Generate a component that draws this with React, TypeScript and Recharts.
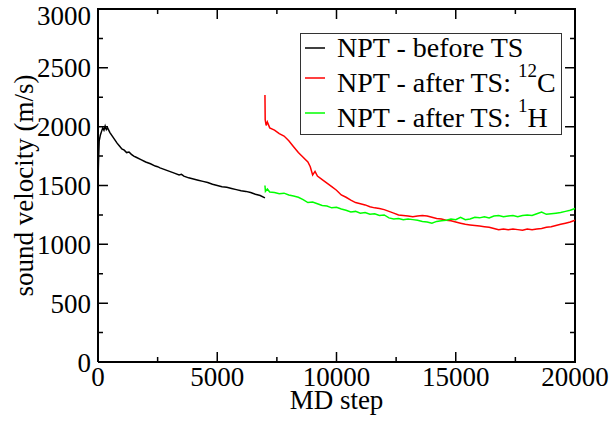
import React from 'react';
import { LineChart, Line, XAxis, YAxis } from 'recharts';

// black: NPT before thermostat switch
const beforeSteps = [0, 20, 50, 100, 150, 200, 250, 300, 350, 400, 500, 600, 700, 800, 900, 1000, 1100, 1200, 1300, 1400, 1500, 1600, 1800, 2000, 2200, 2400, 2500, 2600, 2800, 3000, 3200, 3400, 3500, 3600, 3800, 4000, 4200, 4400, 4600, 4800, 5000, 5200, 5400, 5600, 5800, 6000, 6200, 6400, 6600, 6800, 7000];
const beforeVel = [1530, 1700, 1880, 1930, 1960, 1990, 1970, 2005, 1975, 1990, 1950, 1920, 1890, 1860, 1835, 1810, 1800, 1780, 1785, 1765, 1750, 1740, 1720, 1700, 1685, 1665, 1660, 1650, 1635, 1620, 1605, 1590, 1595, 1580, 1565, 1555, 1545, 1535, 1525, 1510, 1500, 1490, 1485, 1475, 1465, 1455, 1450, 1440, 1425, 1415, 1395];

// red: after TS, 12C
const carbonSteps = [7000, 7010, 7050, 7100, 7200, 7400, 7600, 7800, 8000, 8200, 8400, 8600, 8800, 8900, 9000, 9100, 9200, 9400, 9600, 9800, 10000, 10200, 10400, 10600, 10800, 11000, 11200, 11400, 11600, 11800, 12000, 12200, 12400, 12600, 12800, 13000, 13200, 13400, 13600, 13800, 14000, 14200, 14400, 14600, 14800, 15000, 15200, 15400, 15600, 15800, 16000, 16200, 16400, 16600, 16800, 17000, 17200, 17400, 17600, 17800, 18000, 18200, 18400, 18600, 18800, 19000, 19200, 19400, 19600, 19800, 20000];
const carbonVel = [2270, 2060, 2010, 2040, 1990, 1970, 1940, 1920, 1880, 1830, 1780, 1740, 1700, 1660, 1590, 1620, 1580, 1550, 1520, 1490, 1460, 1420, 1400, 1375, 1355, 1345, 1335, 1320, 1310, 1305, 1295, 1280, 1265, 1250, 1245, 1240, 1235, 1240, 1245, 1240, 1230, 1220, 1215, 1205, 1200, 1190, 1180, 1170, 1165, 1160, 1155, 1150, 1145, 1135, 1125, 1130, 1125, 1130, 1125, 1120, 1130, 1125, 1130, 1135, 1145, 1150, 1160, 1170, 1180, 1190, 1205];

// green: after TS, 1H
const hydroSteps = [7000, 7020, 7100, 7200, 7400, 7600, 7800, 8000, 8200, 8400, 8600, 8800, 9000, 9200, 9400, 9600, 9800, 10000, 10200, 10400, 10600, 10800, 11000, 11200, 11400, 11600, 11800, 12000, 12200, 12400, 12600, 12800, 13000, 13200, 13400, 13600, 13800, 14000, 14200, 14400, 14600, 14800, 15000, 15200, 15400, 15600, 15800, 16000, 16200, 16400, 16600, 16800, 17000, 17200, 17400, 17600, 17800, 18000, 18200, 18400, 18600, 18800, 19000, 19200, 19400, 19600, 19800, 20000];
const hydroVel = [1500, 1450, 1470, 1445, 1440, 1430, 1435, 1420, 1410, 1400, 1380, 1355, 1360, 1345, 1330, 1325, 1310, 1315, 1300, 1290, 1275, 1280, 1265, 1270, 1255, 1260, 1245, 1250, 1225, 1215, 1220, 1210, 1215, 1210, 1205, 1195, 1190, 1180, 1195, 1200, 1205, 1215, 1210, 1230, 1210, 1215, 1230, 1225, 1235, 1225, 1240, 1245, 1235, 1240, 1245, 1235, 1245, 1250, 1245, 1260, 1275, 1255, 1260, 1265, 1270, 1280, 1290, 1305];

const xMajor = [0, 5000, 10000, 15000, 20000];
const xMinor = [2500, 7500, 12500, 17500];
const yMajor = [0, 500, 1000, 1500, 2000, 2500, 3000];
const yMinor = [250, 750, 1250, 1750, 2250, 2750];
const X_MAX = 20000;
const Y_MAX = 3000;

const zip = (xs: number[], ys: number[]) => xs.map((x, i) => ({ step: x, v: ys[i] }));
const beforeData = zip(beforeSteps, beforeVel);
const carbonData = zip(carbonSteps, carbonVel);
const hydroData = zip(hydroSteps, hydroVel);

// plot frame, drawn through the axis scales
const frameData = [
  { step: 0, v: 0 },
  { step: X_MAX, v: 0 },
  { step: X_MAX, v: Y_MAX },
  { step: 0, v: Y_MAX },
  { step: 0, v: 0 },
];

// inward tick marks on all four sides (grace style); lengths in data units (~10px major, ~5px minor)
const xTickSeg = (x: number, len: number) => [
  { step: x, v: 0 }, { step: x, v: len }, { step: x, v: null },
  { step: x, v: Y_MAX }, { step: x, v: Y_MAX - len }, { step: x, v: null },
];
const yTickSeg = (y: number, len: number) => [
  { step: 0, v: y }, { step: len, v: y }, { step: 0, v: null },
  { step: X_MAX, v: y }, { step: X_MAX - len, v: y }, { step: X_MAX, v: null },
];
const tickData = [
  ...xMajor.flatMap((x) => xTickSeg(x, 85)),
  ...xMinor.flatMap((x) => xTickSeg(x, 42)),
  ...yMajor.flatMap((y) => yTickSeg(y, 418)),
  ...yMinor.flatMap((y) => yTickSeg(y, 209)),
];

const SERIF = 'Liberation Serif, Times New Roman, serif';
const tickFont = { fontSize: 27, fontFamily: SERIF, fill: '#000' };

const legendRows = [
  { color: '#000000', lineY: 15, base: 24, main: 'NPT - before TS', sup: '', tail: '' },
  { color: '#ff0000', lineY: 45, base: 59, main: 'NPT - after TS:\u00a0', sup: '12', tail: 'C' },
  { color: '#00ff00', lineY: 80, base: 94, main: 'NPT - after TS:\u00a0', sup: '1', tail: 'H' },
];

function LegendBox() {
  return (
    <div style={{ position: 'absolute', left: 300, top: 33, width: 262, height: 102, background: '#fff', border: '1.5px solid #333', boxSizing: 'border-box' }}>
      <svg width={262} height={102} style={{ position: 'absolute', left: -1.5, top: -1.5 }}>
        {legendRows.map((r) => (
          <g key={r.color}>
            <line x1={5} x2={25} y1={r.lineY} y2={r.lineY} stroke={r.color} strokeWidth={1.5} />
            <text x={37} y={r.base} fontFamily={SERIF} fontSize={28} fill="#000">
              {r.main}
              {r.sup ? (
                <tspan fontSize={19} dy={-15}>
                  {r.sup}
                </tspan>
              ) : null}
              {r.tail ? (
                <tspan fontSize={28} dy={15}>
                  {r.tail}
                </tspan>
              ) : null}
            </text>
          </g>
        ))}
      </svg>
    </div>
  );
}

export default function App() {
  return (
    <div style={{ position: 'absolute', left: 0, top: 0, width: 610, height: 421, background: '#fff' }}>
      <LineChart width={610} height={421} margin={{ top: 9, right: 35, bottom: 0, left: 38 }}>
        <XAxis
          dataKey="step"
          type="number"
          domain={[0, X_MAX]}
          ticks={xMajor}
          height={59}
          stroke="#000"
          axisLine={false}
          tickLine={false}
          tickSize={0}
          tickMargin={5}
          tick={tickFont}
          label={{ value: 'MD step', position: 'insideBottom', offset: 12, fill: '#000', fontSize: 27, fontFamily: SERIF }}
        />
        <YAxis
          type="number"
          domain={[0, Y_MAX]}
          ticks={yMajor}
          width={60}
          stroke="#000"
          axisLine={false}
          tickLine={false}
          tickSize={0}
          tickMargin={7}
          tick={tickFont}
          label={{ value: 'sound velocity (m/s)', angle: -90, position: 'insideLeft', offset: -15, fill: '#000', fontSize: 27, fontFamily: SERIF, style: { textAnchor: 'middle' } }}
        />
        <Line data={tickData} dataKey="v" stroke="#000" strokeWidth={1.5} dot={false} activeDot={false} connectNulls={false} legendType="none" isAnimationActive={false} />
        <Line data={frameData} dataKey="v" stroke="#000" strokeWidth={2} dot={false} activeDot={false} legendType="none" isAnimationActive={false} />
        <Line data={beforeData} dataKey="v" name="NPT - before TS" stroke="#000000" strokeWidth={1.5} dot={false} isAnimationActive={false} />
        <Line data={carbonData} dataKey="v" name="NPT - after TS: 12C" stroke="#ff0000" strokeWidth={1.5} dot={false} isAnimationActive={false} />
        <Line data={hydroData} dataKey="v" name="NPT - after TS: 1H" stroke="#00ff00" strokeWidth={1.5} dot={false} isAnimationActive={false} />
      </LineChart>
      <LegendBox />
    </div>
  );
}
